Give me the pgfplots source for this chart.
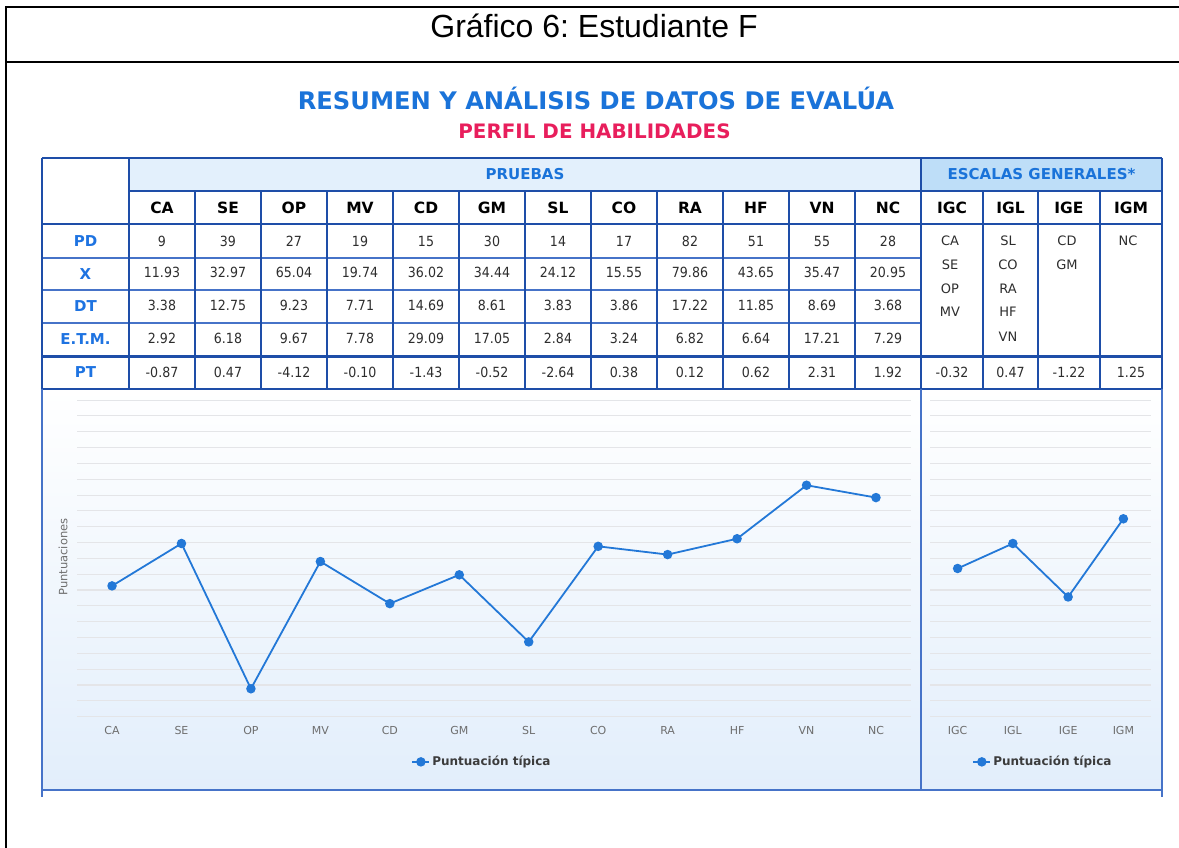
\documentclass[border=0pt]{standalone}
\usepackage{graphicx}
\usepackage{pgfplots}
\pgfplotsset{compat=1.18}
\usepackage{pgfplotstable}
\usepackage{fontspec}
\setmainfont{DejaVu Sans}
\newfontfamily\arialf{Liberation Sans}
\frenchspacing
\newcommand\fs[1]{\fontsize{#1}{#1}\selectfont}
\newcommand\nx[1]{\scalebox{0.9}[1]{#1}}
\definecolor{tblue}{RGB}{30,78,168}
\definecolor{tthin}{RGB}{70,115,200}
\definecolor{hblue}{RGB}{26,115,217}
\definecolor{rowblue}{RGB}{30,115,225}
\definecolor{pinkc}{RGB}{232,30,92}
\definecolor{hdrbg}{RGB}{227,240,252}
\definecolor{hdrbg2}{RGB}{190,222,248}
\definecolor{panelbg}{RGB}{226,238,251}
\definecolor{lineblue}{RGB}{35,120,215}
\definecolor{gridc}{RGB}{228,229,232}
\definecolor{tickc}{RGB}{110,110,110}
\definecolor{valc}{RGB}{45,45,45}
\definecolor{legc}{RGB}{60,60,60}

\pgfplotstableread{
idx pt
0 -0.87
1 0.47
2 -4.12
3 -0.10
4 -1.43
5 -0.52
6 -2.64
7 0.38
8 0.12
9 0.62
10 2.31
11 1.92
}\pruebas
\pgfplotstableread{
idx pt
0 -0.32
1 0.47
2 -1.22
3 1.25
}\escalas

\begin{document}
\begin{tikzpicture}
\useasboundingbox (0,0) rectangle (1179pt,-847pt);
\begin{scope}[x=1pt,y=-1pt]
% outer black frame
\draw[line width=2.6pt,black] (6,850) -- (6,7) -- (1190,7);
\draw[line width=2.6pt,black] (6,62) -- (1190,62);
\node[anchor=base,font=\arialf\fs{32},inner sep=0pt] at (594,37) {Gráfico 6: Estudiante F};
\node[anchor=base,font=\bfseries\fs{24.2},text=hblue,inner sep=0pt] at (596,109) {RESUMEN Y ANÁLISIS DE DATOS DE EVALÚA};
\node[anchor=base,font=\bfseries\fs{19.9},text=pinkc,inner sep=0pt] at (594.5,138) {PERFIL DE HABILIDADES};
% panel background
\shade[top color=white,bottom color=panelbg] (42,389) rectangle (1162,790);
% header fills
\fill[hdrbg] (129,158) rectangle (921,191);
\fill[hdrbg2] (921,158) rectangle (1162,191);
% thin horizontal lines
\foreach \y in {258,290,323} \draw[tthin,line width=1.2pt] (42,\y) -- (921,\y);
% vertical inner lines
\foreach \x in {195,261,327,393,459,525,591,657,723,789,855,983,1038,1100}
  \draw[tblue,line width=1.8pt] (\x,191) -- (\x,389);
\draw[tblue,line width=2pt] (129,158) -- (129,389);
% thick horizontals
\draw[tblue,line width=2pt] (129,191) -- (1162,191);
\draw[tblue,line width=2.2pt] (42,224) -- (1162,224);
\draw[tblue,line width=3pt] (42,356) -- (1162,356);
\draw[tblue,line width=2.4pt] (42,389) -- (1162,389);
\draw[tblue,line width=2.4pt] (42,158) -- (1162,158);
\draw[tblue,line width=2.4pt] (42,158) -- (42,389);
\draw[tblue,line width=2.4pt] (1162,158) -- (1162,389);
\draw[tblue,line width=2.2pt] (921,158) -- (921,389);
% panel frame
\draw[tthin,line width=1.6pt] (42,389) -- (42,797);
\draw[tthin,line width=1.6pt] (1162,389) -- (1162,797);
\draw[tthin,line width=1.6pt] (42,790) -- (1162,790);
\draw[tthin,line width=2pt] (921,389) -- (921,790);
% header texts
\node[font=\bfseries\fs{15},text=hblue] at (525,174.5) {PRUEBAS};
\node[font=\bfseries\fs{15},text=hblue] at (1041.5,174.5) {ESCALAS GENERALES*};
% column headers
\foreach \x/\t in {162/CA,228/SE,294/OP,360/MV,426/CD,492/GM,558/SL,624/CO,690/RA,756/HF,822/VN,888/NC,952/IGC,1010.5/IGL,1069/IGE,1131/IGM}
  \node[font=\bfseries\fs{15.5},text=black] at (\x,207.5) {\t};
% row labels
\foreach \y/\t in {241/PD,274/X,306.5/DT,339.5/E.T.M.,372.5/PT}
  \node[font=\bfseries\fs{15},text=rowblue] at (85.5,\y) {\t};
% values
\foreach \x/\a/\b/\c/\d/\e in {
 162/9/11.93/3.38/2.92/-0.87,
 228/39/32.97/12.75/6.18/0.47,
 294/27/65.04/9.23/9.67/-4.12,
 360/19/19.74/7.71/7.78/-0.10,
 426/15/36.02/14.69/29.09/-1.43,
 492/30/34.44/8.61/17.05/-0.52,
 558/14/24.12/3.83/2.84/-2.64,
 624/17/15.55/3.86/3.24/0.38,
 690/82/79.86/17.22/6.82/0.12,
 756/51/43.65/11.85/6.64/0.62,
 822/55/35.47/8.69/17.21/2.31,
 888/28/20.95/3.68/7.29/1.92}{
  \node[font=\fs{14},text=valc] at (\x,241) {\nx{\a}};
  \node[font=\fs{14},text=valc] at (\x,272) {\nx{\b}};
  \node[font=\fs{14},text=valc] at (\x,305) {\nx{\c}};
  \node[font=\fs{14},text=valc] at (\x,338) {\nx{\d}};
  \node[font=\fs{14},text=valc] at (\x,372.5) {\nx{\e}};
}
\foreach \x/\e in {952/-0.32,1010.5/0.47,1069/-1.22,1131/1.25}
  \node[font=\fs{14},text=valc] at (\x,372.5) {\nx{\e}};
% escalas lists
\foreach \y/\t in {241/CA,265/SE,288.5/OP,312/MV}
  \node[font=\fs{13},text=valc] at (950,\y) {\t};
\foreach \y/\t in {241/SL,265/CO,288.5/RA,312/HF,336.5/VN}
  \node[font=\fs{13},text=valc] at (1008,\y) {\t};
\foreach \y/\t in {241/CD,265/GM}
  \node[font=\fs{13},text=valc] at (1067,\y) {\t};
\node[font=\fs{13},text=valc] at (1128,241) {NC};
% y label
\node[rotate=90,font=\fs{11.5},text=tickc] at (63,557) {Puntuaciones};
\end{scope}

\pgfplotsset{
  panel/.style={
    scale only axis, height=316.5pt,
    ymin=-5, ymax=5, clip=false,
    axis line style={draw=none},
    major tick length=0pt,
    ytick={-5,-4.5,...,5.01}, yticklabels={},
    ymajorgrids, major grid style={gridc,line width=1.1pt},
    xticklabel style={font=\fs{11},text=tickc,anchor=center,yshift=-13.4pt},
    legend style={draw=none,fill=none,font=\bfseries\fs{12},text=legc,anchor=center,
      /tikz/every even column/.append style={column sep=2pt}},
    legend cell align=left,
  },
  ser/.style={color=lineblue,line width=1.8pt,mark=*,mark size=3.8pt,mark options={fill=lineblue,draw=lineblue}},
}
\begin{axis}[panel,
  at={(77.3pt,-716.6pt)}, anchor=south west,
  width=833.4pt, xmin=-0.5, xmax=11.5,
  xtick={0,...,11}, xticklabels={CA,SE,OP,MV,CD,GM,SL,CO,RA,HF,VN,NC},
  legend style={at={(0.4856,-0.143)}}]
\addplot[ser] table[x=idx,y=pt] {\pruebas};
\addlegendentry{Puntuación típica}
\end{axis}
\begin{axis}[panel,
  at={(930pt,-716.6pt)}, anchor=south west,
  width=221pt, xmin=-0.5, xmax=3.5,
  xtick={0,...,3}, xticklabels={IGC,IGL,IGE,IGM},
  legend style={at={(0.511,-0.143)}}]
\addplot[ser] table[x=idx,y=pt] {\escalas};
\addlegendentry{Puntuación típica}
\end{axis}
\end{tikzpicture}
\end{document}
